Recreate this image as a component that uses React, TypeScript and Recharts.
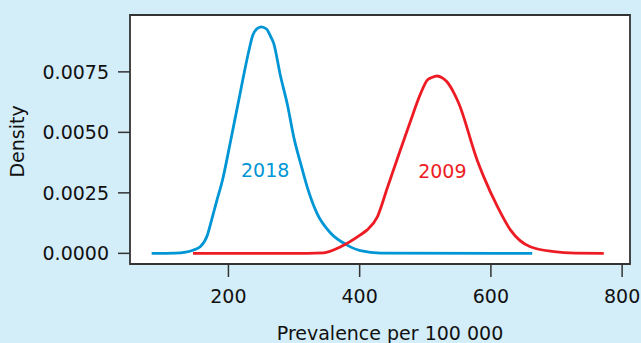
import React from 'react';
import { LineChart, Line, XAxis, YAxis, CartesianGrid, ReferenceArea, ReferenceDot } from 'recharts';

const xTicks = [200, 400, 600, 800];
const yTicks = [0, 0.0025, 0.005, 0.0075];
const X_MIN = 50;
const X_MAX = 812;
const Y_MIN = -0.00044;
const Y_MAX = 0.00985;

const blueX = [83, 119, 135, 147, 157, 168, 173, 182, 191, 203, 218, 231, 237, 243, 250, 258, 264, 269, 279, 290, 300, 310, 320, 335, 356, 381, 401, 432, 663];
const blueY = [0, 0.00001, 0.00005, 0.00014, 0.00027, 0.00076, 0.00124, 0.00215, 0.00303, 0.0046, 0.00664, 0.00835, 0.009, 0.00927, 0.00936, 0.00927, 0.00898, 0.00868, 0.00737, 0.00613, 0.00475, 0.00372, 0.00275, 0.00165, 0.00083, 0.00034, 0.00011, 0.00001, 0];

const redX = [146, 320, 345, 371, 401, 411, 427, 442, 462, 477, 493, 503, 510, 518, 526, 533, 544, 551, 579, 589, 610, 630, 660, 696, 729, 772];
const redY = [0, 0, 0.00002, 0.00027, 0.00076, 0.00096, 0.00151, 0.00269, 0.00427, 0.00543, 0.00661, 0.00716, 0.00727, 0.00733, 0.00725, 0.00709, 0.00661, 0.0062, 0.00386, 0.00317, 0.00193, 0.00096, 0.00027, 0.00007, 0.00001, 0];

const label2018 = { text: '2018', x: 256, y: 0.00344 };
const label2009 = { text: '2009', x: 526, y: 0.0034 };

const series2018 = blueX.map((x, i) => ({ x, y: blueY[i] }));
const series2009 = redX.map((x, i) => ({ x, y: redY[i] }));

const FONT = "'DejaVu Sans', sans-serif";
const BLUE = '#0096d6';
const RED = '#ed1c24';
const BG = '#d3edf9';

const YLabel = (props: any) => {
  const vb = props.viewBox || { y: 15, height: 249 };
  const cx = 24;
  const cy = vb.y + vb.height / 2 + 2;
  return (
    <text x={cx} y={cy} transform={`rotate(-90, ${cx}, ${cy})`} textAnchor="middle" fill="#111" fontSize={19} fontFamily={FONT}>
      Density
    </text>
  );
};

export default function App() {
  return (
    <div style={{ position: 'absolute', left: 0, top: 0, width: 641, height: 343, background: BG }}>
      <LineChart width={641} height={343} margin={{ top: 15, right: 11, left: 0, bottom: 0 }} style={{ fontFamily: FONT }}>
        <CartesianGrid horizontal={false} vertical={false} fill="#ffffff" fillOpacity={1} />
        <XAxis
          type="number"
          dataKey="x"
          domain={[X_MIN, X_MAX]}
          allowDataOverflow
          ticks={xTicks}
          height={79}
          axisLine={false}
          tickSize={13}
          tickMargin={13}
          tickLine={{ stroke: '#333', strokeWidth: 1.5 }}
          tick={{ fill: '#111', fontSize: 19, fontFamily: FONT }}
          label={{ value: 'Prevalence per 100 000', position: 'insideBottom', offset: 3, dx: 10, fill: '#111', fontSize: 19, fontFamily: FONT }}
        />
        <YAxis
          type="number"
          domain={[Y_MIN, Y_MAX]}
          allowDataOverflow
          ticks={yTicks}
          width={130}
          axisLine={false}
          tickSize={12}
          tickMargin={9}
          tickLine={{ stroke: '#333', strokeWidth: 1.5 }}
          tick={{ fill: '#111', fontSize: 19, fontFamily: FONT }}
          tickFormatter={(v: number) => v.toFixed(4)}
          label={<YLabel />}
        />
        <ReferenceArea x1={X_MIN} x2={X_MAX} y1={Y_MIN} y2={Y_MAX} fill="none" stroke="#333" strokeWidth={1.8} ifOverflow="visible" />
        <Line data={series2018} dataKey="y" type="monotone" stroke={BLUE} strokeWidth={2.8} dot={false} activeDot={false} isAnimationActive={false} />
        <Line data={series2009} dataKey="y" type="monotone" stroke={RED} strokeWidth={2.8} dot={false} activeDot={false} isAnimationActive={false} />
        <ReferenceDot x={label2018.x} y={label2018.y} r={0} fill="none" stroke="none" label={{ value: label2018.text, position: 'center', fill: BLUE, fontSize: 19, fontFamily: FONT }} />
        <ReferenceDot x={label2009.x} y={label2009.y} r={0} fill="none" stroke="none" label={{ value: label2009.text, position: 'center', fill: RED, fontSize: 19, fontFamily: FONT }} />
      </LineChart>
    </div>
  );
}
